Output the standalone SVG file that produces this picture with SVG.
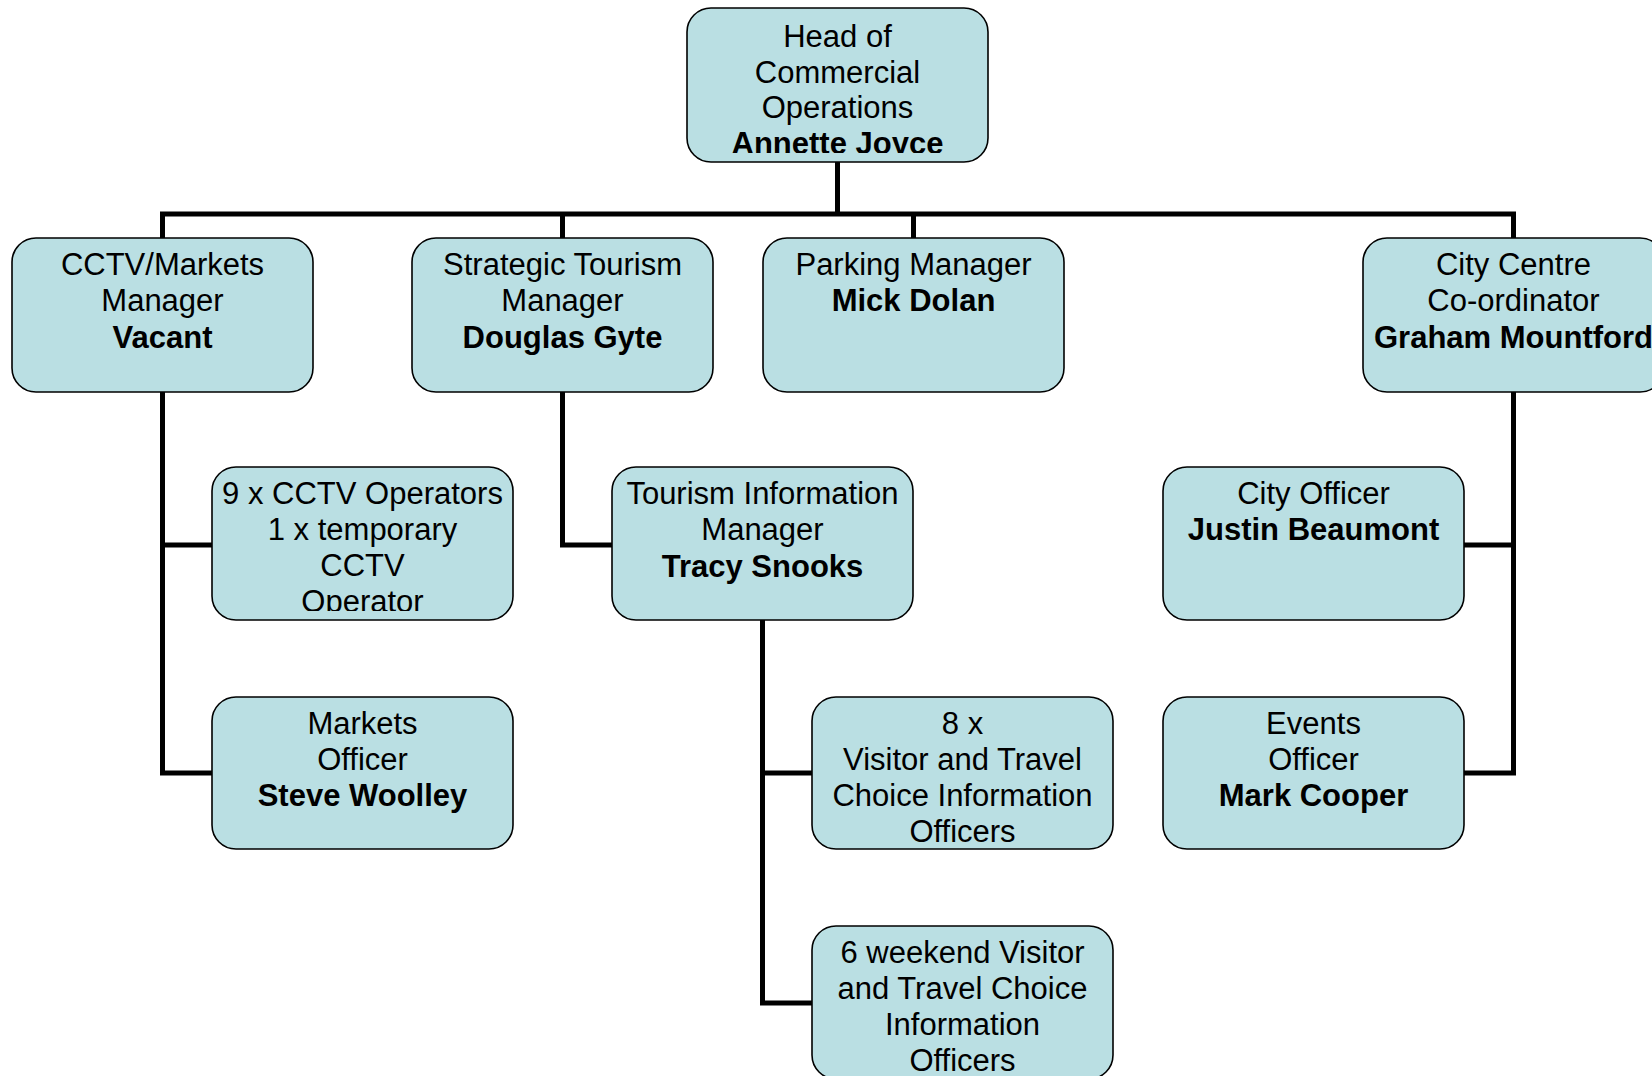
<svg xmlns="http://www.w3.org/2000/svg" width="1652" height="1076" viewBox="0 0 1652 1076">
<style>
.box{fill:#BADFE3;stroke:#000;stroke-width:1.6}
text{font-family:"Liberation Sans",Arial,sans-serif;font-size:31px;fill:#000;text-anchor:middle}
.b{font-weight:bold}
.conn{fill:none;stroke:#000;stroke-width:5;stroke-linejoin:miter;stroke-linecap:butt}
</style>
<defs>
<clipPath id="c-top"><rect x="687" y="8" width="301" height="145"/></clipPath>
<clipPath id="c-ops"><rect x="212" y="467" width="301" height="144"/></clipPath>
</defs>
<rect width="1652" height="1076" fill="#fff"/>
<g id="connectors" class="conn">
<path d="M837.5 162V214"/>
<path d="M162.5 238V214H1513.5V238"/>
<path d="M562.5 214V238"/>
<path d="M913.5 214V238"/>
<path d="M162.5 392V773H212"/>
<path d="M162.5 545H212"/>
<path d="M562.5 392V545H612"/>
<path d="M762.5 620V1003H812"/>
<path d="M762.5 773H812"/>
<path d="M1513.5 392V773H1463"/>
<path d="M1513.5 545H1463"/>
</g>
<g id="node-head">
<rect class="box" x="687" y="8" width="301" height="154" rx="24"/>
<g clip-path="url(#c-top)">
<text x="837.5" y="47">Head of</text>
<text x="837.5" y="83">Commercial</text>
<text x="837.5" y="118">Operations</text>
<text class="b" x="837.5" y="154">Annette Joyce</text>
</g>
</g>
<g id="node-cctv-manager">
<rect class="box" x="12" y="238" width="301" height="154" rx="24"/>
<text x="162.5" y="275">CCTV/Markets</text>
<text x="162.5" y="311">Manager</text>
<text class="b" x="162.5" y="348">Vacant</text>
</g>
<g id="node-strategic">
<rect class="box" x="412" y="238" width="301" height="154" rx="24"/>
<text x="562.5" y="275">Strategic Tourism</text>
<text x="562.5" y="311">Manager</text>
<text class="b" x="562.5" y="348">Douglas Gyte</text>
</g>
<g id="node-parking">
<rect class="box" x="763" y="238" width="301" height="154" rx="24"/>
<text x="913.5" y="275">Parking Manager</text>
<text class="b" x="913.5" y="311">Mick Dolan</text>
</g>
<g id="node-citycentre">
<rect class="box" x="1363" y="238" width="301" height="154" rx="24"/>
<text x="1513.5" y="275">City Centre</text>
<text x="1513.5" y="311">Co-ordinator</text>
<text class="b" x="1513.5" y="348">Graham Mountford</text>
</g>
<g id="node-cctv-ops">
<rect class="box" x="212" y="467" width="301" height="153" rx="24"/>
<g clip-path="url(#c-ops)">
<text x="362.5" y="504">9 x CCTV Operators</text>
<text x="362.5" y="540">1 x temporary</text>
<text x="362.5" y="576">CCTV</text>
<text x="362.5" y="612">Operator</text>
</g>
</g>
<g id="node-tim">
<rect class="box" x="612" y="467" width="301" height="153" rx="24"/>
<text x="762.5" y="504">Tourism Information</text>
<text x="762.5" y="540">Manager</text>
<text class="b" x="762.5" y="577">Tracy Snooks</text>
</g>
<g id="node-city-officer">
<rect class="box" x="1163" y="467" width="301" height="153" rx="24"/>
<text x="1313.5" y="504">City Officer</text>
<text class="b" x="1313.5" y="540">Justin Beaumont</text>
</g>
<g id="node-markets">
<rect class="box" x="212" y="697" width="301" height="152" rx="24"/>
<text x="362.5" y="734">Markets</text>
<text x="362.5" y="770">Officer</text>
<text class="b" x="362.5" y="806">Steve Woolley</text>
</g>
<g id="node-visitor">
<rect class="box" x="812" y="697" width="301" height="152" rx="24"/>
<text x="962.5" y="734">8 x</text>
<text x="962.5" y="770">Visitor and Travel</text>
<text x="962.5" y="806">Choice Information</text>
<text x="962.5" y="842">Officers</text>
</g>
<g id="node-events">
<rect class="box" x="1163" y="697" width="301" height="152" rx="24"/>
<text x="1313.5" y="734">Events</text>
<text x="1313.5" y="770">Officer</text>
<text class="b" x="1313.5" y="806">Mark Cooper</text>
</g>
<g id="node-weekend">
<rect class="box" x="812" y="926" width="301" height="153" rx="24"/>
<text x="962.5" y="963">6 weekend Visitor</text>
<text x="962.5" y="999">and Travel Choice</text>
<text x="962.5" y="1035">Information</text>
<text x="962.5" y="1071">Officers</text>
</g>
</svg>
